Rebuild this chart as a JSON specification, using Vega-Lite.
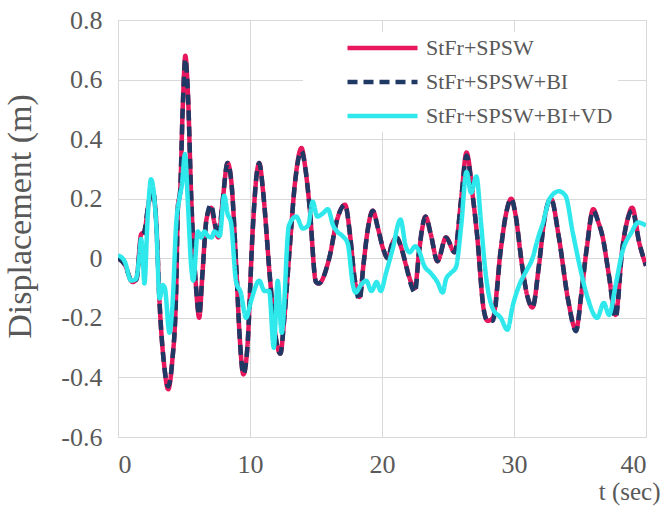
{
  "$schema": "https://vega.github.io/schema/vega-lite/v6.json",
  "width": 528,
  "height": 417,
  "autosize": {"type": "none"},
  "padding": {"left": 118, "top": 20, "right": 16, "bottom": 71},
  "background": "white",
  "config": {
    "font": "Times New Roman, Liberation Serif, serif",
    "view": {"stroke": "#D9D9D9", "strokeWidth": 1}
  },
  "data": {
    "values": [
      {"s":"StFr+SPSW","t":0,"d":0},{"s":"StFr+SPSW","t":0.5,"d":-0.02},{"s":"StFr+SPSW","t":1.1,"d":-0.08},{"s":"StFr+SPSW","t":1.4,"d":-0.07},{"s":"StFr+SPSW","t":1.75,"d":0.08},{"s":"StFr+SPSW","t":2.0,"d":0.09},{"s":"StFr+SPSW","t":2.3,"d":0.18},{"s":"StFr+SPSW","t":2.6,"d":0.23},{"s":"StFr+SPSW","t":2.9,"d":0.12},{"s":"StFr+SPSW","t":3.15,"d":-0.15},{"s":"StFr+SPSW","t":3.5,"d":-0.36},{"s":"StFr+SPSW","t":3.8,"d":-0.44},{"s":"StFr+SPSW","t":4.1,"d":-0.35},{"s":"StFr+SPSW","t":4.4,"d":-0.12},{"s":"StFr+SPSW","t":4.55,"d":0.18},{"s":"StFr+SPSW","t":4.7,"d":0.22},{"s":"StFr+SPSW","t":4.9,"d":0.5},{"s":"StFr+SPSW","t":5.1,"d":0.68},{"s":"StFr+SPSW","t":5.3,"d":0.55},{"s":"StFr+SPSW","t":5.55,"d":0.2},{"s":"StFr+SPSW","t":5.9,"d":-0.09},{"s":"StFr+SPSW","t":6.15,"d":-0.2},{"s":"StFr+SPSW","t":6.4,"d":-0.05},{"s":"StFr+SPSW","t":6.7,"d":0.13},{"s":"StFr+SPSW","t":7.05,"d":0.17},{"s":"StFr+SPSW","t":7.3,"d":0.12},{"s":"StFr+SPSW","t":7.6,"d":0.07},{"s":"StFr+SPSW","t":7.9,"d":0.18},{"s":"StFr+SPSW","t":8.3,"d":0.32},{"s":"StFr+SPSW","t":8.6,"d":0.25},{"s":"StFr+SPSW","t":8.95,"d":-0.02},{"s":"StFr+SPSW","t":9.2,"d":-0.25},{"s":"StFr+SPSW","t":9.5,"d":-0.39},{"s":"StFr+SPSW","t":9.8,"d":-0.3},{"s":"StFr+SPSW","t":10.2,"d":0.09},{"s":"StFr+SPSW","t":10.5,"d":0.28},{"s":"StFr+SPSW","t":10.7,"d":0.32},{"s":"StFr+SPSW","t":11.0,"d":0.22},{"s":"StFr+SPSW","t":11.5,"d":-0.06},{"s":"StFr+SPSW","t":11.9,"d":-0.25},{"s":"StFr+SPSW","t":12.3,"d":-0.32},{"s":"StFr+SPSW","t":12.6,"d":-0.2},{"s":"StFr+SPSW","t":13.0,"d":0.03},{"s":"StFr+SPSW","t":13.4,"d":0.25},{"s":"StFr+SPSW","t":13.9,"d":0.37},{"s":"StFr+SPSW","t":14.2,"d":0.3},{"s":"StFr+SPSW","t":14.5,"d":0.18},{"s":"StFr+SPSW","t":15.0,"d":-0.08},{"s":"StFr+SPSW","t":15.2,"d":-0.085},{"s":"StFr+SPSW","t":16.0,"d":0.0},{"s":"StFr+SPSW","t":16.6,"d":0.13},{"s":"StFr+SPSW","t":17.2,"d":0.18},{"s":"StFr+SPSW","t":17.6,"d":0.07},{"s":"StFr+SPSW","t":17.9,"d":-0.06},{"s":"StFr+SPSW","t":18.3,"d":-0.13},{"s":"StFr+SPSW","t":18.6,"d":-0.02},{"s":"StFr+SPSW","t":18.9,"d":0.09},{"s":"StFr+SPSW","t":19.3,"d":0.16},{"s":"StFr+SPSW","t":19.7,"d":0.1},{"s":"StFr+SPSW","t":20.1,"d":0.03},{"s":"StFr+SPSW","t":20.45,"d":0.0},{"s":"StFr+SPSW","t":20.7,"d":0.04},{"s":"StFr+SPSW","t":21.1,"d":0.07},{"s":"StFr+SPSW","t":21.5,"d":0.03},{"s":"StFr+SPSW","t":21.8,"d":-0.02},{"s":"StFr+SPSW","t":22.2,"d":-0.08},{"s":"StFr+SPSW","t":22.5,"d":-0.1},{"s":"StFr+SPSW","t":22.8,"d":0.02},{"s":"StFr+SPSW","t":23.3,"d":0.14},{"s":"StFr+SPSW","t":23.7,"d":0.08},{"s":"StFr+SPSW","t":24.2,"d":-0.01},{"s":"StFr+SPSW","t":24.85,"d":0.07},{"s":"StFr+SPSW","t":25.5,"d":0.02},{"s":"StFr+SPSW","t":26.0,"d":0.2},{"s":"StFr+SPSW","t":26.4,"d":0.355},{"s":"StFr+SPSW","t":26.9,"d":0.2},{"s":"StFr+SPSW","t":27.2,"d":0.08},{"s":"StFr+SPSW","t":27.7,"d":-0.17},{"s":"StFr+SPSW","t":28.0,"d":-0.21},{"s":"StFr+SPSW","t":28.4,"d":-0.2},{"s":"StFr+SPSW","t":29.0,"d":0.03},{"s":"StFr+SPSW","t":29.4,"d":0.15},{"s":"StFr+SPSW","t":29.8,"d":0.2},{"s":"StFr+SPSW","t":30.1,"d":0.15},{"s":"StFr+SPSW","t":30.6,"d":-0.02},{"s":"StFr+SPSW","t":31.0,"d":-0.125},{"s":"StFr+SPSW","t":31.4,"d":-0.165},{"s":"StFr+SPSW","t":31.9,"d":-0.02},{"s":"StFr+SPSW","t":32.3,"d":0.13},{"s":"StFr+SPSW","t":32.8,"d":0.2},{"s":"StFr+SPSW","t":33.4,"d":0.07},{"s":"StFr+SPSW","t":34.1,"d":-0.14},{"s":"StFr+SPSW","t":34.7,"d":-0.24},{"s":"StFr+SPSW","t":35.1,"d":-0.12},{"s":"StFr+SPSW","t":35.5,"d":0.03},{"s":"StFr+SPSW","t":36.0,"d":0.165},{"s":"StFr+SPSW","t":36.4,"d":0.12},{"s":"StFr+SPSW","t":36.7,"d":0.075},{"s":"StFr+SPSW","t":37.2,"d":-0.06},{"s":"StFr+SPSW","t":37.7,"d":-0.19},{"s":"StFr+SPSW","t":38.2,"d":0.03},{"s":"StFr+SPSW","t":38.6,"d":0.13},{"s":"StFr+SPSW","t":38.95,"d":0.17},{"s":"StFr+SPSW","t":39.5,"d":0.05},{"s":"StFr+SPSW","t":40.0,"d":-0.025},

      {"s":"StFr+SPSW+BI","t":0,"d":0},{"s":"StFr+SPSW+BI","t":0.5,"d":-0.02},{"s":"StFr+SPSW+BI","t":1.1,"d":-0.08},{"s":"StFr+SPSW+BI","t":1.4,"d":-0.07},{"s":"StFr+SPSW+BI","t":1.75,"d":0.07},{"s":"StFr+SPSW+BI","t":2.0,"d":0.09},{"s":"StFr+SPSW+BI","t":2.3,"d":0.18},{"s":"StFr+SPSW+BI","t":2.6,"d":0.23},{"s":"StFr+SPSW+BI","t":2.9,"d":0.12},{"s":"StFr+SPSW+BI","t":3.15,"d":-0.15},{"s":"StFr+SPSW+BI","t":3.5,"d":-0.36},{"s":"StFr+SPSW+BI","t":3.8,"d":-0.43},{"s":"StFr+SPSW+BI","t":4.1,"d":-0.35},{"s":"StFr+SPSW+BI","t":4.4,"d":-0.12},{"s":"StFr+SPSW+BI","t":4.55,"d":0.18},{"s":"StFr+SPSW+BI","t":4.7,"d":0.22},{"s":"StFr+SPSW+BI","t":4.9,"d":0.5},{"s":"StFr+SPSW+BI","t":5.1,"d":0.67},{"s":"StFr+SPSW+BI","t":5.3,"d":0.55},{"s":"StFr+SPSW+BI","t":5.55,"d":0.2},{"s":"StFr+SPSW+BI","t":5.9,"d":-0.09},{"s":"StFr+SPSW+BI","t":6.15,"d":-0.19},{"s":"StFr+SPSW+BI","t":6.4,"d":-0.05},{"s":"StFr+SPSW+BI","t":6.7,"d":0.13},{"s":"StFr+SPSW+BI","t":7.05,"d":0.18},{"s":"StFr+SPSW+BI","t":7.3,"d":0.13},{"s":"StFr+SPSW+BI","t":7.6,"d":0.07},{"s":"StFr+SPSW+BI","t":7.9,"d":0.18},{"s":"StFr+SPSW+BI","t":8.3,"d":0.32},{"s":"StFr+SPSW+BI","t":8.6,"d":0.25},{"s":"StFr+SPSW+BI","t":8.95,"d":-0.02},{"s":"StFr+SPSW+BI","t":9.2,"d":-0.25},{"s":"StFr+SPSW+BI","t":9.5,"d":-0.39},{"s":"StFr+SPSW+BI","t":9.8,"d":-0.3},{"s":"StFr+SPSW+BI","t":10.2,"d":0.09},{"s":"StFr+SPSW+BI","t":10.5,"d":0.28},{"s":"StFr+SPSW+BI","t":10.7,"d":0.32},{"s":"StFr+SPSW+BI","t":11.0,"d":0.22},{"s":"StFr+SPSW+BI","t":11.5,"d":-0.06},{"s":"StFr+SPSW+BI","t":11.9,"d":-0.25},{"s":"StFr+SPSW+BI","t":12.3,"d":-0.32},{"s":"StFr+SPSW+BI","t":12.6,"d":-0.2},{"s":"StFr+SPSW+BI","t":13.0,"d":0.03},{"s":"StFr+SPSW+BI","t":13.4,"d":0.25},{"s":"StFr+SPSW+BI","t":13.9,"d":0.36},{"s":"StFr+SPSW+BI","t":14.2,"d":0.3},{"s":"StFr+SPSW+BI","t":14.5,"d":0.18},{"s":"StFr+SPSW+BI","t":15.0,"d":-0.08},{"s":"StFr+SPSW+BI","t":15.2,"d":-0.085},{"s":"StFr+SPSW+BI","t":16.0,"d":0.0},{"s":"StFr+SPSW+BI","t":16.6,"d":0.13},{"s":"StFr+SPSW+BI","t":17.2,"d":0.18},{"s":"StFr+SPSW+BI","t":17.6,"d":0.07},{"s":"StFr+SPSW+BI","t":17.9,"d":-0.06},{"s":"StFr+SPSW+BI","t":18.3,"d":-0.14},{"s":"StFr+SPSW+BI","t":18.6,"d":-0.02},{"s":"StFr+SPSW+BI","t":18.9,"d":0.09},{"s":"StFr+SPSW+BI","t":19.3,"d":0.16},{"s":"StFr+SPSW+BI","t":19.7,"d":0.1},{"s":"StFr+SPSW+BI","t":20.1,"d":0.03},{"s":"StFr+SPSW+BI","t":20.45,"d":0.0},{"s":"StFr+SPSW+BI","t":20.7,"d":0.04},{"s":"StFr+SPSW+BI","t":21.1,"d":0.07},{"s":"StFr+SPSW+BI","t":21.5,"d":0.03},{"s":"StFr+SPSW+BI","t":21.8,"d":-0.02},{"s":"StFr+SPSW+BI","t":22.2,"d":-0.09},{"s":"StFr+SPSW+BI","t":22.5,"d":-0.115},{"s":"StFr+SPSW+BI","t":22.8,"d":0.02},{"s":"StFr+SPSW+BI","t":23.3,"d":0.14},{"s":"StFr+SPSW+BI","t":23.7,"d":0.08},{"s":"StFr+SPSW+BI","t":24.2,"d":-0.01},{"s":"StFr+SPSW+BI","t":24.85,"d":0.07},{"s":"StFr+SPSW+BI","t":25.5,"d":0.02},{"s":"StFr+SPSW+BI","t":26.0,"d":0.2},{"s":"StFr+SPSW+BI","t":26.4,"d":0.345},{"s":"StFr+SPSW+BI","t":26.9,"d":0.2},{"s":"StFr+SPSW+BI","t":27.2,"d":0.08},{"s":"StFr+SPSW+BI","t":27.7,"d":-0.17},{"s":"StFr+SPSW+BI","t":28.0,"d":-0.21},{"s":"StFr+SPSW+BI","t":28.4,"d":-0.21},{"s":"StFr+SPSW+BI","t":29.0,"d":0.03},{"s":"StFr+SPSW+BI","t":29.4,"d":0.15},{"s":"StFr+SPSW+BI","t":29.8,"d":0.2},{"s":"StFr+SPSW+BI","t":30.1,"d":0.15},{"s":"StFr+SPSW+BI","t":30.6,"d":-0.02},{"s":"StFr+SPSW+BI","t":31.0,"d":-0.125},{"s":"StFr+SPSW+BI","t":31.4,"d":-0.165},{"s":"StFr+SPSW+BI","t":31.9,"d":-0.02},{"s":"StFr+SPSW+BI","t":32.3,"d":0.13},{"s":"StFr+SPSW+BI","t":32.8,"d":0.2},{"s":"StFr+SPSW+BI","t":33.4,"d":0.07},{"s":"StFr+SPSW+BI","t":34.1,"d":-0.14},{"s":"StFr+SPSW+BI","t":34.7,"d":-0.245},{"s":"StFr+SPSW+BI","t":35.1,"d":-0.12},{"s":"StFr+SPSW+BI","t":35.5,"d":0.03},{"s":"StFr+SPSW+BI","t":36.0,"d":0.16},{"s":"StFr+SPSW+BI","t":36.4,"d":0.12},{"s":"StFr+SPSW+BI","t":36.7,"d":0.075},{"s":"StFr+SPSW+BI","t":37.2,"d":-0.06},{"s":"StFr+SPSW+BI","t":37.7,"d":-0.2},{"s":"StFr+SPSW+BI","t":38.2,"d":0.03},{"s":"StFr+SPSW+BI","t":38.6,"d":0.13},{"s":"StFr+SPSW+BI","t":38.95,"d":0.16},{"s":"StFr+SPSW+BI","t":39.5,"d":0.05},{"s":"StFr+SPSW+BI","t":40.0,"d":-0.025},

      {"s":"StFr+SPSW+BI+VD","t":0,"d":0.01},{"s":"StFr+SPSW+BI+VD","t":0.5,"d":-0.01},{"s":"StFr+SPSW+BI+VD","t":1.0,"d":-0.075},{"s":"StFr+SPSW+BI+VD","t":1.35,"d":-0.07},{"s":"StFr+SPSW+BI+VD","t":1.6,"d":0.0},{"s":"StFr+SPSW+BI+VD","t":1.75,"d":0.065},{"s":"StFr+SPSW+BI+VD","t":1.85,"d":0.03},{"s":"StFr+SPSW+BI+VD","t":2.0,"d":-0.085},{"s":"StFr+SPSW+BI+VD","t":2.25,"d":0.14},{"s":"StFr+SPSW+BI+VD","t":2.5,"d":0.265},{"s":"StFr+SPSW+BI+VD","t":2.9,"d":0.11},{"s":"StFr+SPSW+BI+VD","t":3.15,"d":-0.135},{"s":"StFr+SPSW+BI+VD","t":3.4,"d":-0.09},{"s":"StFr+SPSW+BI+VD","t":3.55,"d":-0.1},{"s":"StFr+SPSW+BI+VD","t":3.9,"d":-0.25},{"s":"StFr+SPSW+BI+VD","t":4.15,"d":-0.14},{"s":"StFr+SPSW+BI+VD","t":4.4,"d":0.11},{"s":"StFr+SPSW+BI+VD","t":4.65,"d":0.2},{"s":"StFr+SPSW+BI+VD","t":4.85,"d":0.25},{"s":"StFr+SPSW+BI+VD","t":5.07,"d":0.35},{"s":"StFr+SPSW+BI+VD","t":5.3,"d":0.18},{"s":"StFr+SPSW+BI+VD","t":5.55,"d":-0.03},{"s":"StFr+SPSW+BI+VD","t":5.7,"d":-0.075},{"s":"StFr+SPSW+BI+VD","t":6.05,"d":0.09},{"s":"StFr+SPSW+BI+VD","t":6.3,"d":0.07},{"s":"StFr+SPSW+BI+VD","t":6.55,"d":0.09},{"s":"StFr+SPSW+BI+VD","t":6.8,"d":0.075},{"s":"StFr+SPSW+BI+VD","t":7.1,"d":0.07},{"s":"StFr+SPSW+BI+VD","t":7.3,"d":0.09},{"s":"StFr+SPSW+BI+VD","t":7.7,"d":0.075},{"s":"StFr+SPSW+BI+VD","t":8.05,"d":0.21},{"s":"StFr+SPSW+BI+VD","t":8.3,"d":0.15},{"s":"StFr+SPSW+BI+VD","t":8.56,"d":0.12},{"s":"StFr+SPSW+BI+VD","t":8.95,"d":-0.08},{"s":"StFr+SPSW+BI+VD","t":9.3,"d":-0.115},{"s":"StFr+SPSW+BI+VD","t":9.7,"d":-0.2},{"s":"StFr+SPSW+BI+VD","t":10.1,"d":-0.14},{"s":"StFr+SPSW+BI+VD","t":10.7,"d":-0.075},{"s":"StFr+SPSW+BI+VD","t":11.1,"d":-0.11},{"s":"StFr+SPSW+BI+VD","t":11.45,"d":-0.11},{"s":"StFr+SPSW+BI+VD","t":11.8,"d":-0.3},{"s":"StFr+SPSW+BI+VD","t":12.1,"d":-0.075},{"s":"StFr+SPSW+BI+VD","t":12.4,"d":-0.25},{"s":"StFr+SPSW+BI+VD","t":12.95,"d":0.11},{"s":"StFr+SPSW+BI+VD","t":13.5,"d":0.14},{"s":"StFr+SPSW+BI+VD","t":14.0,"d":0.1},{"s":"StFr+SPSW+BI+VD","t":14.4,"d":0.11},{"s":"StFr+SPSW+BI+VD","t":14.75,"d":0.19},{"s":"StFr+SPSW+BI+VD","t":15.1,"d":0.14},{"s":"StFr+SPSW+BI+VD","t":15.5,"d":0.15},{"s":"StFr+SPSW+BI+VD","t":15.9,"d":0.165},{"s":"StFr+SPSW+BI+VD","t":16.3,"d":0.11},{"s":"StFr+SPSW+BI+VD","t":16.6,"d":0.09},{"s":"StFr+SPSW+BI+VD","t":17.0,"d":0.075},{"s":"StFr+SPSW+BI+VD","t":17.4,"d":0.05},{"s":"StFr+SPSW+BI+VD","t":17.8,"d":-0.09},{"s":"StFr+SPSW+BI+VD","t":18.0,"d":-0.115},{"s":"StFr+SPSW+BI+VD","t":18.4,"d":-0.09},{"s":"StFr+SPSW+BI+VD","t":18.8,"d":-0.075},{"s":"StFr+SPSW+BI+VD","t":19.2,"d":-0.11},{"s":"StFr+SPSW+BI+VD","t":19.6,"d":-0.08},{"s":"StFr+SPSW+BI+VD","t":19.9,"d":-0.11},{"s":"StFr+SPSW+BI+VD","t":20.3,"d":-0.05},{"s":"StFr+SPSW+BI+VD","t":20.8,"d":0.03},{"s":"StFr+SPSW+BI+VD","t":21.4,"d":0.13},{"s":"StFr+SPSW+BI+VD","t":21.8,"d":0.04},{"s":"StFr+SPSW+BI+VD","t":22.1,"d":0.02},{"s":"StFr+SPSW+BI+VD","t":22.5,"d":0.04},{"s":"StFr+SPSW+BI+VD","t":22.8,"d":0.025},{"s":"StFr+SPSW+BI+VD","t":23.2,"d":-0.025},{"s":"StFr+SPSW+BI+VD","t":23.7,"d":-0.05},{"s":"StFr+SPSW+BI+VD","t":24.2,"d":-0.08},{"s":"StFr+SPSW+BI+VD","t":24.6,"d":-0.115},{"s":"StFr+SPSW+BI+VD","t":24.85,"d":-0.07},{"s":"StFr+SPSW+BI+VD","t":25.2,"d":-0.05},{"s":"StFr+SPSW+BI+VD","t":25.6,"d":-0.03},{"s":"StFr+SPSW+BI+VD","t":26.0,"d":0.11},{"s":"StFr+SPSW+BI+VD","t":26.4,"d":0.29},{"s":"StFr+SPSW+BI+VD","t":26.75,"d":0.22},{"s":"StFr+SPSW+BI+VD","t":27.15,"d":0.275},{"s":"StFr+SPSW+BI+VD","t":27.5,"d":0.12},{"s":"StFr+SPSW+BI+VD","t":27.8,"d":-0.03},{"s":"StFr+SPSW+BI+VD","t":28.4,"d":-0.17},{"s":"StFr+SPSW+BI+VD","t":29.0,"d":-0.2},{"s":"StFr+SPSW+BI+VD","t":29.5,"d":-0.24},{"s":"StFr+SPSW+BI+VD","t":29.9,"d":-0.16},{"s":"StFr+SPSW+BI+VD","t":30.4,"d":-0.09},{"s":"StFr+SPSW+BI+VD","t":30.9,"d":-0.045},{"s":"StFr+SPSW+BI+VD","t":31.4,"d":0.0},{"s":"StFr+SPSW+BI+VD","t":31.8,"d":0.065},{"s":"StFr+SPSW+BI+VD","t":32.2,"d":0.12},{"s":"StFr+SPSW+BI+VD","t":32.7,"d":0.2},{"s":"StFr+SPSW+BI+VD","t":33.4,"d":0.225},{"s":"StFr+SPSW+BI+VD","t":33.9,"d":0.21},{"s":"StFr+SPSW+BI+VD","t":34.45,"d":0.087},{"s":"StFr+SPSW+BI+VD","t":34.95,"d":-0.02},{"s":"StFr+SPSW+BI+VD","t":35.6,"d":-0.136},{"s":"StFr+SPSW+BI+VD","t":36.3,"d":-0.2},{"s":"StFr+SPSW+BI+VD","t":36.8,"d":-0.15},{"s":"StFr+SPSW+BI+VD","t":37.2,"d":-0.19},{"s":"StFr+SPSW+BI+VD","t":37.7,"d":-0.09},{"s":"StFr+SPSW+BI+VD","t":38.2,"d":0.02},{"s":"StFr+SPSW+BI+VD","t":38.9,"d":0.087},{"s":"StFr+SPSW+BI+VD","t":39.4,"d":0.12},{"s":"StFr+SPSW+BI+VD","t":40.0,"d":0.11}
    ]
  },
  "mark": {"type": "line", "interpolate": "monotone", "strokeWidth": 4.5, "strokeCap": "butt", "clip": true},
  "encoding": {
    "x": {
      "field": "t", "type": "quantitative",
      "scale": {"domain": [0, 40], "nice": false},
      "axis": {
        "values": [0, 10, 20, 30, 40],
        "title": "t (sec)",
        "grid": true, "gridColor": "#D9D9D9", "gridWidth": 1,
        "domain": false, "ticks": false, "tickSize": 0,
        "labelPadding": 14,
        "labelFont": "Times New Roman, Liberation Serif, serif", "labelFontSize": 26, "labelColor": "#595959",
        "titleFont": "Times New Roman, Liberation Serif, serif", "titleFontSize": 25, "titleColor": "#595959", "titleFontWeight": "normal",
        "titleX": 542, "titleY": 54, "titleAlign": "right", "titleBaseline": "middle", "titleAnchor": "end"
      }
    },
    "y": {
      "field": "d", "type": "quantitative",
      "scale": {"domain": [-0.6, 0.8], "nice": false, "zero": false},
      "axis": {
        "values": [-0.6, -0.4, -0.2, 0, 0.2, 0.4, 0.6, 0.8],
        "labelExpr": "replace(format(datum.value, '.1~f'), '−', '-')",
        "title": "Displacement (m)",
        "grid": true, "gridColor": "#D9D9D9", "gridWidth": 1,
        "domain": false, "ticks": false, "tickSize": 0,
        "labelPadding": 16,
        "labelFont": "Times New Roman, Liberation Serif, serif", "labelFontSize": 26, "labelColor": "#595959",
        "titleFont": "Times New Roman, Liberation Serif, serif", "titleFontSize": 34, "titleColor": "#595959", "titleFontWeight": "normal",
        "titleX": -98, "titleY": 196, "titleAngle": -90, "titleAlign": "center", "titleBaseline": "middle"
      }
    },
    "color": {
      "field": "s", "type": "nominal",
      "scale": {
        "domain": ["StFr+SPSW", "StFr+SPSW+BI", "StFr+SPSW+BI+VD"],
        "range": ["#E8175D", "#1F3864", "#2EE8EC"]
      },
      "legend": {
        "orient": "none", "legendX": 185, "legendY": 12, "title": null,
        "symbolType": "stroke", "symbolSize": 4900, "symbolStrokeWidth": 4.5,
        "labelFont": "Times New Roman, Liberation Serif, serif", "labelFontSize": 22, "labelColor": "#595959", "labelLimit": 400,
        "fillColor": "white", "padding": 5, "rowPadding": 12, "clipHeight": 22, "symbolOffset": 37, "labelOffset": 6
      }
    },
    "strokeDash": {
      "field": "s", "type": "nominal",
      "scale": {
        "domain": ["StFr+SPSW", "StFr+SPSW+BI", "StFr+SPSW+BI+VD"],
        "range": [[1, 0], [10, 6], [1, 0]]
      },
      "legend": {
        "orient": "none", "legendX": 185, "legendY": 12, "title": null,
        "symbolType": "stroke", "symbolSize": 4900, "symbolStrokeWidth": 4.5,
        "labelFont": "Times New Roman, Liberation Serif, serif", "labelFontSize": 22, "labelColor": "#595959", "labelLimit": 400,
        "fillColor": "white", "padding": 5, "rowPadding": 12, "clipHeight": 22, "symbolOffset": 37, "labelOffset": 6
      }
    }
  }
}
